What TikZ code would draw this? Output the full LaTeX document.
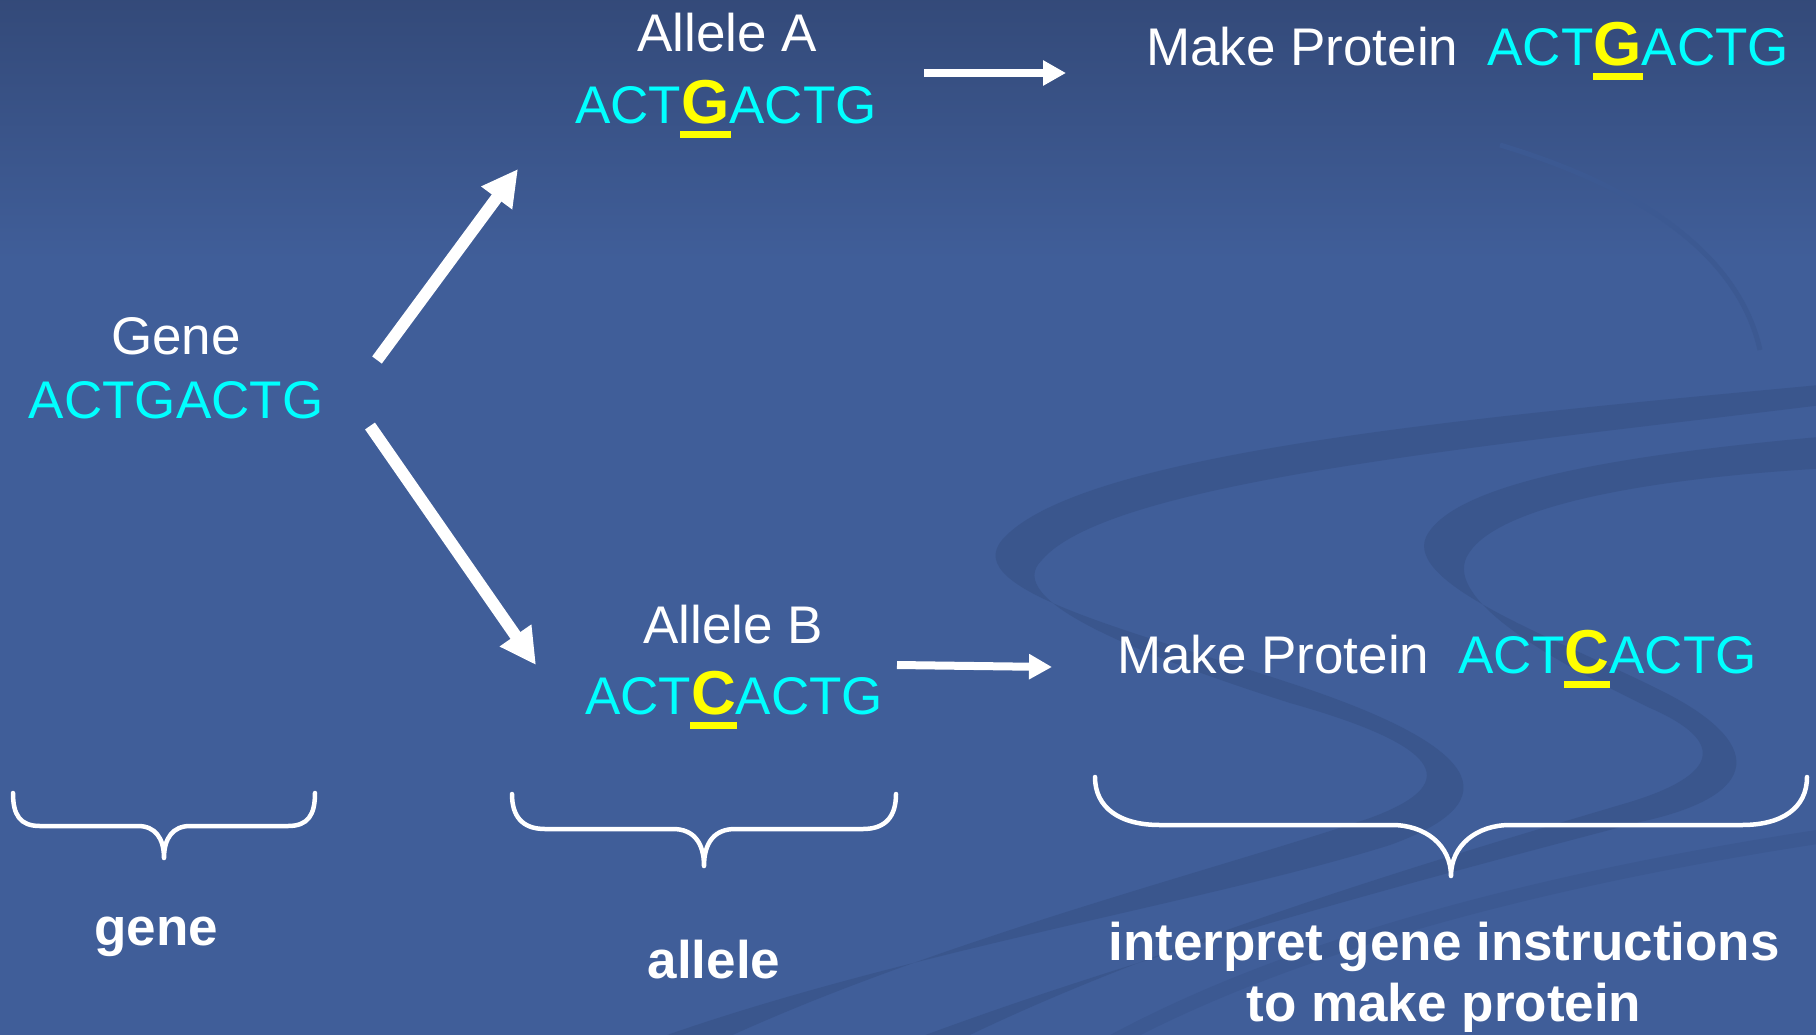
\documentclass[tikz,border=0pt]{standalone}
\usepackage{fontspec}
\setmainfont{Liberation Sans}
\usetikzlibrary{arrows.meta}
\definecolor{bgmain}{RGB}{64,94,153}
\definecolor{bgtop}{RGB}{51,73,120}
\definecolor{ribbon}{RGB}{58,86,141}
\definecolor{ribbonfaint}{RGB}{60,89,146}
\definecolor{dnacyan}{RGB}{0,255,255}
\definecolor{mutyellow}{RGB}{255,255,0}
\newcommand\mutbase[1]{{\color{mutyellow}\fontsize{62}{62}\selectfont\bfseries\setbox0=\hbox{#1}\rlap{\kern-1pt\rule[-15pt]{\dimexpr\wd0+2pt\relax}{7pt}}\box0}}
\tikzset{
  lbl/.style={inner sep=0pt, anchor=base, text=white, font=\fontsize{53}{60}\selectfont},
  seq/.style={lbl, text=dnacyan},
  boldlbl/.style={lbl, font=\fontsize{53}{60}\selectfont\bfseries},
  bigarrow/.style={draw=white, line width=12pt, -{Triangle[length=36pt,width=36pt]}},
  smallarrow/.style={draw=white, line width=8pt, -{Triangle[length=23pt,width=24pt]}},
  bracestroke/.style={draw=white, line width=4.5pt, line cap=round, line join=round},
  ribbonfill/.style={fill=ribbon}
}
\begin{document}
\begin{tikzpicture}[x=1pt,y=-1pt]
\useasboundingbox (0,0) rectangle (1816,1034);
% background
\fill[bgmain] (-10,-10) rectangle (1826,1044);
\shade[top color=bgtop, bottom color=bgmain] (-10,-10) rectangle (1826,260);
% background ribbons
\begin{scope}
\clip (-10,-10) rectangle (1826,1044);
\fill[ribbonfill] (1830,384) .. controls (1500,415) and (1080,450) .. (1002,540)
  .. controls (960,590) and (1130,630) .. (1290,683)
  .. controls (1480,745) and (1515,800) .. (1390,845)
  .. controls (1200,905) and (850,960) .. (600,1060)
  -- (680,1060) .. controls (900,950) and (1200,875) .. (1370,818)
  .. controls (1460,785) and (1450,748) .. (1290,703)
  .. controls (1140,655) and (1000,600) .. (1042,560)
  .. controls (1110,480) and (1500,445) .. (1830,404) -- cycle;
\fill[ribbonfill] (1830,436) .. controls (1650,452) and (1455,478) .. (1426,537)
  .. controls (1405,585) and (1560,640) .. (1660,690)
  .. controls (1765,742) and (1765,795) .. (1640,822)
  .. controls (1400,885) and (1100,965) .. (860,1060)
  -- (920,1060) .. controls (1120,955) and (1400,870) .. (1630,802)
  .. controls (1718,775) and (1728,742) .. (1650,708)
  .. controls (1540,655) and (1440,595) .. (1469,553)
  .. controls (1500,505) and (1650,478) .. (1830,468) -- cycle;
\draw[draw=ribbonfaint, line width=14pt] (1830,835) .. controls (1500,885) and (1250,960) .. (1080,1060);
\draw[draw=ribbonfaint, line width=5pt] (1500,145) .. controls (1650,190) and (1740,260) .. (1760,350);
\end{scope}
% texts
\node[lbl] (alleleA) at (727,51) {Allele A};
\node[seq] (seqA) at (726,123) {ACT\mutbase{G}ACTG};
\node[lbl, anchor=base west] (protA) at (1146,65) {Make Protein\hspace{0.55em}{\color{dnacyan}ACT\mutbase{G}ACTG}};
\node[lbl] (gene) at (176,354) {Gene};
\node[seq] (seqGene) at (176,418) {ACTGACTG};
\node[lbl] (alleleB) at (733,643) {Allele B};
\node[seq] (seqB) at (734,714) {ACT\mutbase{C}ACTG};
\node[lbl, anchor=base west] (protB) at (1117,673) {Make Protein\hspace{0.55em}{\color{dnacyan}ACT\mutbase{C}ACTG}};
\node[boldlbl] (lblgene) at (156,945) {gene};
\node[boldlbl] (lblallele) at (714,978) {allele};
\node[boldlbl] (lblinterpA) at (1444,960) {interpret gene instructions};
\node[boldlbl] (lblinterpB) at (1444,1021) {to make protein};
% arrows
\coordinate (upS) at (377,360);
\coordinate (upE) at (518,169);
\coordinate (dnS) at (370,426);
\coordinate (dnE) at (536,665);
\coordinate (hAS) at (924,73);
\coordinate (hAE) at (1066,73);
\coordinate (hBS) at (897,665);
\coordinate (hBE) at (1052,667);
\draw[bigarrow] (upS) -- (upE);
\draw[bigarrow] (dnS) -- (dnE);
\draw[smallarrow] (hAS) -- (hAE);
\draw[smallarrow] (hBS) -- (hBE);
% braces
\draw[bracestroke] (13,793) .. controls (13,815) and (20,826) .. (40,826) -- (138,826) .. controls (155,826) and (164,838) .. (164,858) .. controls (164,838) and (173,826) .. (190,826) -- (288,826) .. controls (308,826) and (315,815) .. (315,793);
\draw[bracestroke] (512,794) .. controls (512,816) and (522,829) .. (545,829) -- (673,829) .. controls (693,829) and (704,842) .. (704,866) .. controls (704,842) and (715,829) .. (735,829) -- (863,829) .. controls (886,829) and (896,816) .. (896,794);
\draw[bracestroke] (1095,777) .. controls (1095,808) and (1120,825) .. (1160,825) -- (1392,825) .. controls (1425,825) and (1451,845) .. (1451,876) .. controls (1451,845) and (1477,825) .. (1510,825) -- (1742,825) .. controls (1782,825) and (1807,808) .. (1807,777);
\end{tikzpicture}
\end{document}
